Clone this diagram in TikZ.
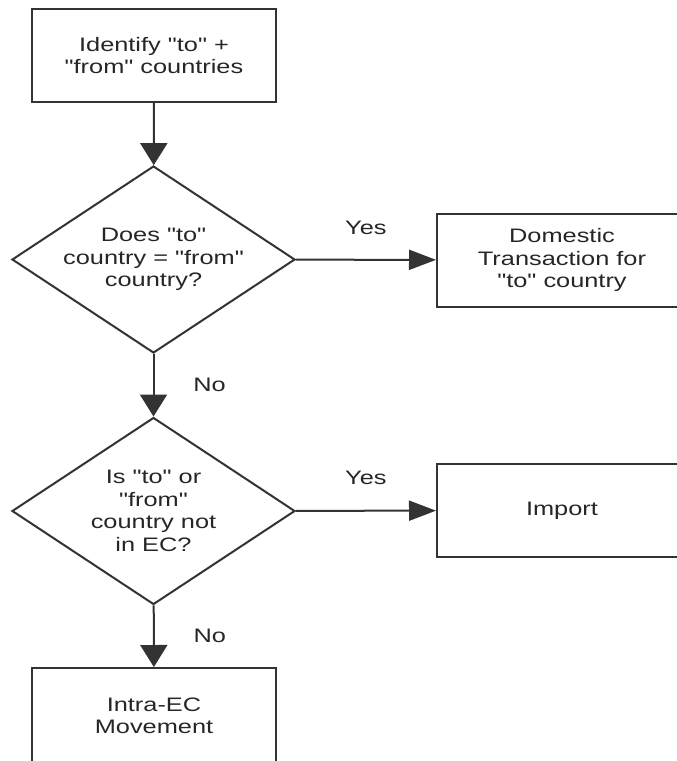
\documentclass[tikz,border=0pt]{standalone}
\usepackage{fontspec}
\setmainfont{Liberation Sans}[FakeStretch=1.3, Ligatures=TeXOff]
\usetikzlibrary{shapes.geometric, arrows.meta}

\begin{document}
\begin{tikzpicture}[x=1pt, y=-1pt, font=\fontsize{19.5pt}{22.5pt}\selectfont,
  box/.style={draw=black!80, line width=2pt, minimum width=244pt, minimum height=93pt, align=center, text=black!85},
  sidebox/.style={box, minimum width=250pt},
  decision/.style={draw=black!80, line width=2pt, shape=diamond, aspect=1.5, inner sep=0pt, minimum width=283pt, minimum height=187pt, align=center, text=black!85},
  down/.style={draw=black!80, line width=2pt, -{Triangle[length=22pt, width=27pt]}},
  across/.style={draw=black!80, line width=2pt, -{Triangle[length=27pt, width=20pt]}},
  answer/.style={text=black!85, inner sep=0pt}]
\useasboundingbox (0,0) rectangle (677,761);
\clip (0,0) rectangle (677,761);
%
\node[box] (identify) at (154, 55.5) {Identify "to" +\\"from" countries};
\node[decision] (same) at (153.5, 259.5) {Does "to"\\country = "from"\\country?};
\node[sidebox] (domestic) at (562, 260) {Domestic\\Transaction for\\"to" country};
%
\node[decision] (outside) at (153.5, 511) {Is "to" or\\"from"\\country not\\in EC?};
\node[sidebox] (import) at (562, 510.5) {Import};
\node[box, minimum height=96pt] (intra) at (154, 716) {Intra-EC\\Movement};
%
\draw[down] (identify) -- (same);
\draw[across] (same) -- node[answer, midway, yshift=32pt] {Yes} (domestic);
\draw[down] (same) -- node[answer, midway, xshift=56pt] {No} (outside);
\draw[across] (outside) -- node[answer, midway, yshift=33pt] {Yes} (import);
\draw[down] (outside) -- node[answer, midway, xshift=56pt] {No} (intra);
\end{tikzpicture}
\end{document}
